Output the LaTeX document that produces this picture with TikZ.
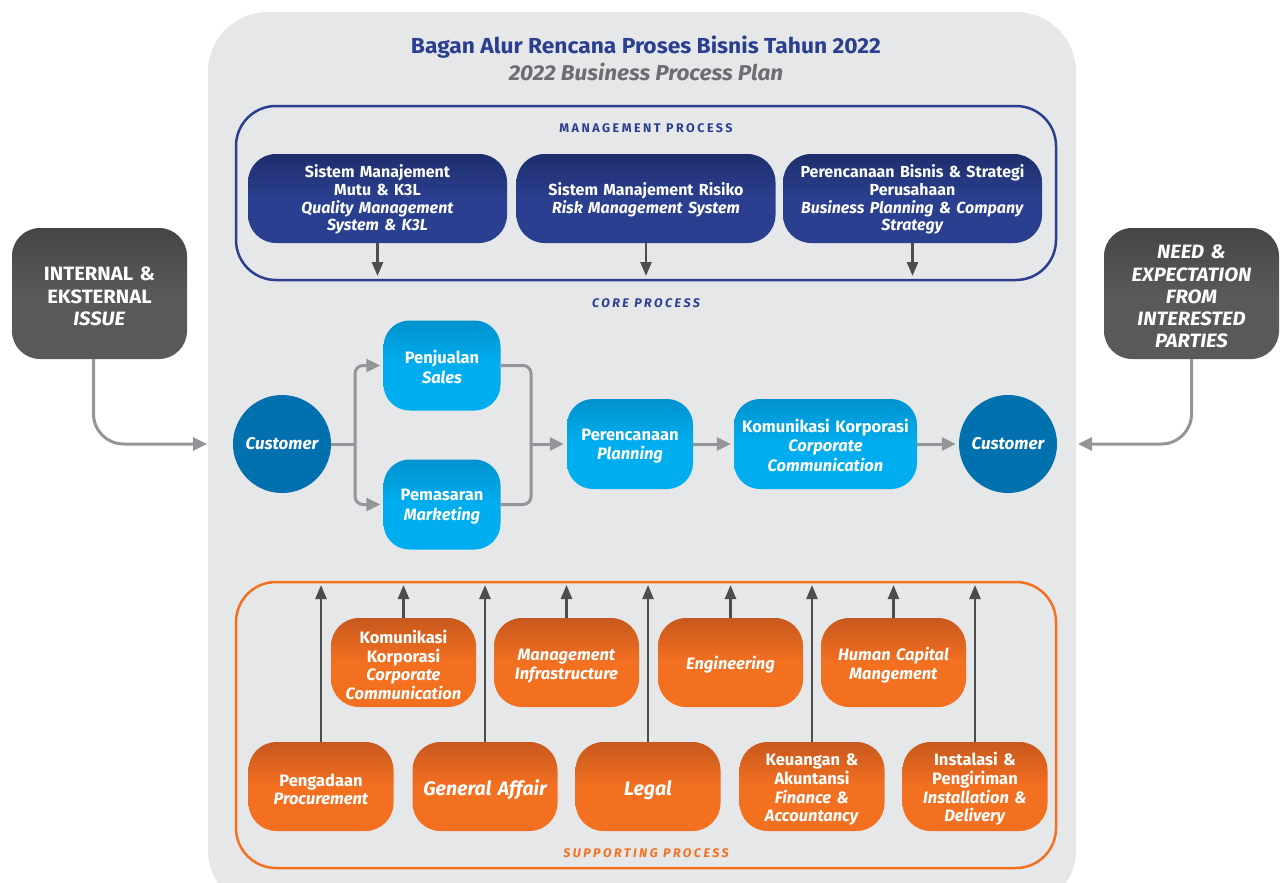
\documentclass[tikz,border=0pt]{standalone}
\usepackage{fontspec}
\setmainfont{Fira Sans}
\newfontfamily\wide{Fira Sans}[FakeStretch=1.05]
\newfontfamily\spaced{Fira Sans}[LetterSpace=20]
\usetikzlibrary{arrows.meta,shapes.geometric,calc}
\definecolor{bggray}{HTML}{E6E7E8}
\definecolor{mgblue}{HTML}{2A3F8F}
\definecolor{mgdark}{HTML}{1E2E6C}
\definecolor{subgray}{HTML}{6D6E71}
\definecolor{dkbox}{HTML}{58595B}
\definecolor{dkboxT}{HTML}{454547}
\definecolor{conngray}{HTML}{939598}
\definecolor{arrgray}{HTML}{4D4D4F}
\definecolor{custblue}{HTML}{0071AE}
\definecolor{cyanbox}{HTML}{00AEEF}
\definecolor{cyanD}{HTML}{0092CF}
\definecolor{orbox}{HTML}{F37021}
\definecolor{orD}{HTML}{C7581D}
\begin{document}
\begin{tikzpicture}[x=1pt,y=-1pt,
  tshift/.style={execute at begin node={\rule{0pt}{#1}}},
  mbox/.style={rounded corners=28pt, minimum width=259pt, minimum height=89pt,
    text width=252pt, align=center, text=white, inner sep=0pt,
    top color=mgdark, bottom color=mgblue, middle color=mgblue, tshift=15pt,
    font=\bfseries\fontsize{16}{17.7}\selectfont},
  dbox/.style={rounded corners=28pt, minimum width=175pt, minimum height=131pt,
    text width=170pt, align=center, text=white, inner sep=0pt,
    top color=dkboxT, bottom color=dkbox, middle color=dkbox, tshift=20pt,
    font=\wide\bfseries\fontsize{19.3}{22.4}\selectfont},
  cust/.style={circle, fill=custblue, minimum size=98pt, inner sep=0pt,
    text=white, font=\bfseries\itshape\fontsize{17}{20}\selectfont},
  cbox/.style={rounded corners=26pt, minimum height=90pt, inner sep=0pt,
    align=center, text=white, top color=cyanD, bottom color=cyanbox, middle color=cyanbox,
    tshift=16pt, font=\bfseries\fontsize{16.5}{19.4}\selectfont},
  obox/.style={rounded corners=28pt, minimum width=145pt, minimum height=89pt,
    text width=142pt, align=center, text=white, inner sep=0pt,
    top color=orD, bottom color=orbox, middle color=orbox, tshift=18.5pt,
    font=\bfseries\fontsize{16.5}{18.7}\selectfont},
  frame/.style={rounded corners=40pt, line width=2.5pt, inner sep=0pt},
  gline/.style={draw=conngray, line width=3pt},
  garr/.style={gline, -{Triangle[length=14pt,width=13pt]}, shorten >=3pt},
  darr/.style={draw=arrgray, line width=2.5pt, -{Triangle[length=14pt,width=11pt]}},
  lbl/.style={font=\spaced\bfseries\fontsize{12.5}{14}\selectfont}
]
\useasboundingbox (0,0) rectangle (1282,883);
% background panel
\fill[bggray, rounded corners=60pt] (208,12) rectangle (1076,910);

% titles
\node[text=mgblue, font=\wide\bfseries\fontsize{21.7}{24}\selectfont] (t1) at (646,47) {Bagan Alur Rencana Proses Bisnis Tahun 2022};
\node[text=subgray, font=\wide\bfseries\itshape\fontsize{21.5}{24}\selectfont] (t2) at (646,72) {2022 Business Process Plan};

% management process
\node[frame, draw=mgblue, minimum width=820pt, minimum height=174pt] (mframe) at (646,193) {};
\node[lbl, text=mgblue] (mlbl) at (646,128) {MANAGEMENT PROCESS};
\node[mbox] (m1) at (377.5,198.5) {Sistem Manajement\\Mutu \& K3L\\\textit{Quality Management}\\\textit{System \& K3L}};
\node[mbox] (m2) at (646,198.5) {Sistem Manajement Risiko\\\textit{Risk Management System}};
\node[mbox] (m3) at (912.5,198.5) {Perencanaan Bisnis \& Strategi\\Perusahaan\\\textit{Business Planning \& Company}\\\textit{Strategy}};
\coordinate (ma1) at (377.5,276);
\coordinate (ma2) at (646,276);
\coordinate (ma3) at (912.5,276);
\draw[darr] (m1.south) -- (ma1);
\draw[darr] (m2.south) -- (ma2);
\draw[darr] (m3.south) -- (ma3);

% core process
\node[lbl, text=mgblue, font=\spaced\bfseries\itshape\fontsize{12.5}{14}\selectfont] (clbl) at (646,303) {CORE PROCESS};

\node[dbox] (lbox) at (99.5,293.5) {INTERNAL \&\\EKSTERNAL\\\textit{ISSUE}};
\node[dbox, font=\wide\bfseries\itshape\fontsize{19.3}{22.3}\selectfont] (rbox) at (1191.5,293.5) {NEED \&\\EXPECTATION\\FROM\\INTERESTED\\PARTIES};

\node[cust] (c1) at (282,444) {Customer};
\node[cust] (c2) at (1008,444) {Customer};
\node[cbox, minimum width=117pt, text width=110pt] (s) at (442,365.5) {Penjualan\\\textit{Sales}};
\node[cbox, minimum width=117pt, text width=110pt] (mk) at (442,504.5) {Pemasaran\\\textit{Marketing}};
\node[cbox, minimum width=126pt, text width=120pt] (pl) at (630,444) {Perencanaan\\\textit{Planning}};
\node[cbox, minimum width=183pt, text width=178pt] (kk) at (825.5,444) {Komunikasi Korporasi\\\textit{Corporate}\\\textit{Communication}};

\coordinate (lin) at (210,444);
\coordinate (rin) at (1075,444);
\draw[garr, rounded corners=30pt] ([xshift=-6pt]lbox.south) |- (lin);
\draw[garr, rounded corners=30pt] (rbox.south) |- (rin);

\coordinate (br) at (355,444);
\coordinate (mg) at (531,444);
\draw[gline] (c1.east) -- (br);
\draw[garr, rounded corners=8pt] (br) |- (s.west);
\draw[garr, rounded corners=8pt] (br) |- (mk.west);
\draw[gline, rounded corners=8pt] (s.east) -| (mg);
\draw[gline, rounded corners=8pt] (mk.east) -| (mg);
\draw[garr] (mg) -- (pl.west);
\draw[garr] (pl.east) -- (kk.west);
\draw[garr] (kk.east) -- (c2.west);

% supporting process
\node[frame, draw=orbox, minimum width=820pt, minimum height=286pt] (sframe) at (646,725) {};
\node[lbl, text=orbox, font=\spaced\bfseries\itshape\fontsize{12.5}{14}\selectfont] (slbl) at (646,853) {SUPPORTING PROCESS};

\node[obox] (o1) at (403.5,662.5) {Komunikasi\\Korporasi\\\textit{Corporate}\\\textit{Communication}};
\node[obox] (o2) at (566.5,662.5) {\textit{Management}\\\textit{Infrastructure}};
\node[obox] (o3) at (730.5,662.5) {\textit{Engineering}};
\node[obox] (o4) at (893.5,662.5) {\textit{Human Capital}\\\textit{Mangement}};

\node[obox] (b1) at (321,786.5) {Pengadaan\\\textit{Procurement}};
\node[obox, tshift=22pt, font=\bfseries\itshape\fontsize{19.5}{24}\selectfont] (b2) at (485,786.5) {General Affair};
\node[obox, tshift=22pt, font=\bfseries\itshape\fontsize{19.5}{24}\selectfont] (b3) at (648,786.5) {Legal};
\node[obox] (b4) at (812,786.5) {Keuangan \&\\Akuntansi\\\textit{Finance \&}\\\textit{Accountancy}};
\node[obox] (b5) at (975,786.5) {Instalasi \&\\Pengiriman\\\textit{Installation \&}\\\textit{Delivery}};

\foreach \n in {o1,o2,o3,o4,b1,b2,b3,b4,b5}{
  \coordinate (\n top) at (\n.north |- 0,585);
  \draw[darr] (\n.north) -- (\n top);
}
\end{tikzpicture}
\end{document}
